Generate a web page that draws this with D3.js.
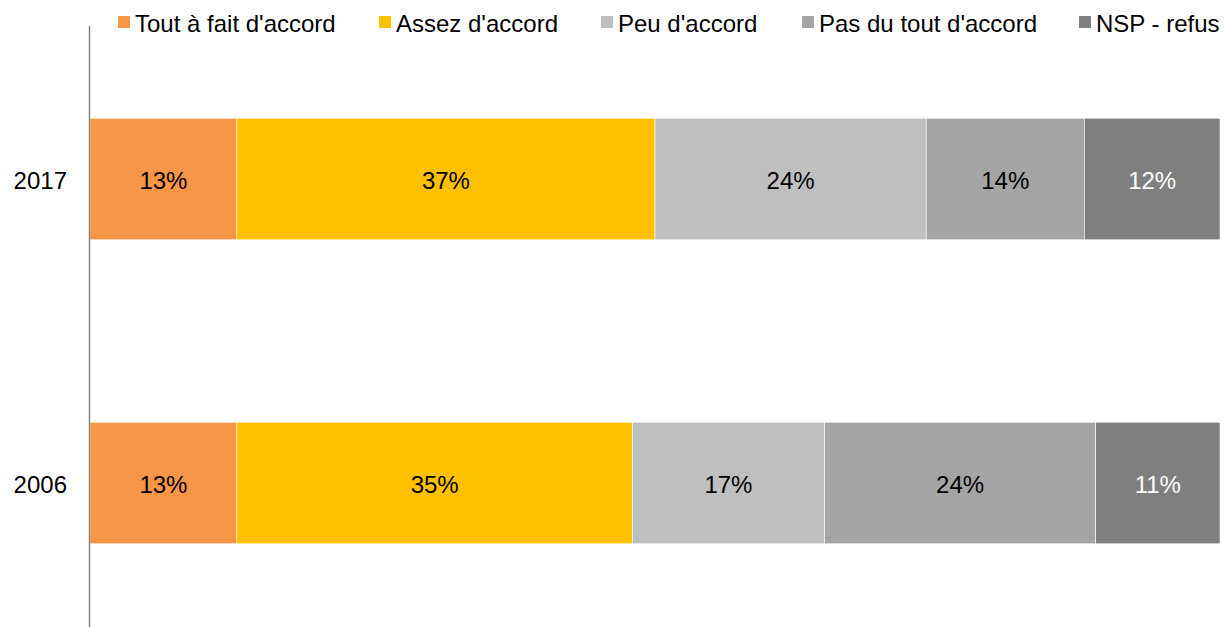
<!DOCTYPE html>
<html><head><meta charset="utf-8">
<script src="https://cdn.jsdelivr.net/npm/d3@7"></script>
<style>html,body{margin:0;padding:0;background:#fff;}svg{display:block;font-family:"Liberation Sans",Arial,sans-serif;}</style>
</head><body>
<svg id="c" width="1224" height="627"></svg>
<script>
const years = ["2017", "2006"];
const seriesNames = ["Tout à fait d'accord", "Assez d'accord", "Peu d'accord", "Pas du tout d'accord", "NSP - refus"];
const toutAFait = [13, 13];
const assez = [37, 35];
const peu = [24, 17];
const pasDuTout = [14, 24];
const nsp = [12, 11];
const colors = ["#F79646", "#FFC000", "#BFBFBF", "#A5A5A5", "#7F7F7F"];
const labelColors = ["#000", "#000", "#000", "#000", "#fff"];
const legendX = [118, 379, 601, 802, 1079];

const rows = years.map((y, i) => ({year: y, s0: toutAFait[i], s1: assez[i], s2: peu[i], s3: pasDuTout[i], s4: nsp[i]}));
const keys = ["s0","s1","s2","s3","s4"];
const stacked = d3.stack().keys(keys)(rows);

const svg = d3.select("#c");
const x = d3.scaleLinear().domain([0, 100]).range([90, 1220]);
const y = d3.scaleBand().domain(years).range([27, 635]).paddingInner(0.6).paddingOuter(0.3);
const fs = 24;

const g = svg.append("g");
stacked.forEach((layer, si) => {
  const lg = g.append("g");
  lg.selectAll("rect").data(layer).join("rect")
    .attr("x", d => x(d[0]))
    .attr("y", d => y(d.data.year))
    .attr("width", d => x(d[1]) - x(d[0]))
    .attr("height", y.bandwidth())
    .attr("fill", colors[si])
    .attr("stroke", "#fff").attr("stroke-width", 0.6);
  lg.selectAll("text").data(layer).join("text")
    .attr("x", d => (x(d[0]) + x(d[1])) / 2)
    .attr("y", d => y(d.data.year) + y.bandwidth() / 2 + 10)
    .attr("text-anchor", "middle")
    .attr("font-size", fs)
    .attr("fill", labelColors[si])
    .text(d => (d[1] - d[0]) + "%");
});

// axis line
svg.append("line").attr("x1", 89.5).attr("x2", 89.5).attr("y1", 26).attr("y2", 627)
  .attr("stroke", "#868686").attr("stroke-width", 1.5);

// year labels
svg.append("g").selectAll("text").data(years).join("text")
  .attr("x", 67)
  .attr("y", d => y(d) + y.bandwidth() / 2 + 10)
  .attr("text-anchor", "end")
  .attr("font-size", fs)
  .attr("fill", "#000")
  .text(d => d);

// legend
const leg = svg.append("g");
seriesNames.forEach((n, i) => {
  leg.append("rect").attr("x", legendX[i]).attr("y", 16).attr("width", 12).attr("height", 12).attr("fill", colors[i]);
  leg.append("text").attr("x", legendX[i] + 17).attr("y", 32).attr("font-size", fs).attr("fill", "#000").text(n);
});
</script>
</body></html>
